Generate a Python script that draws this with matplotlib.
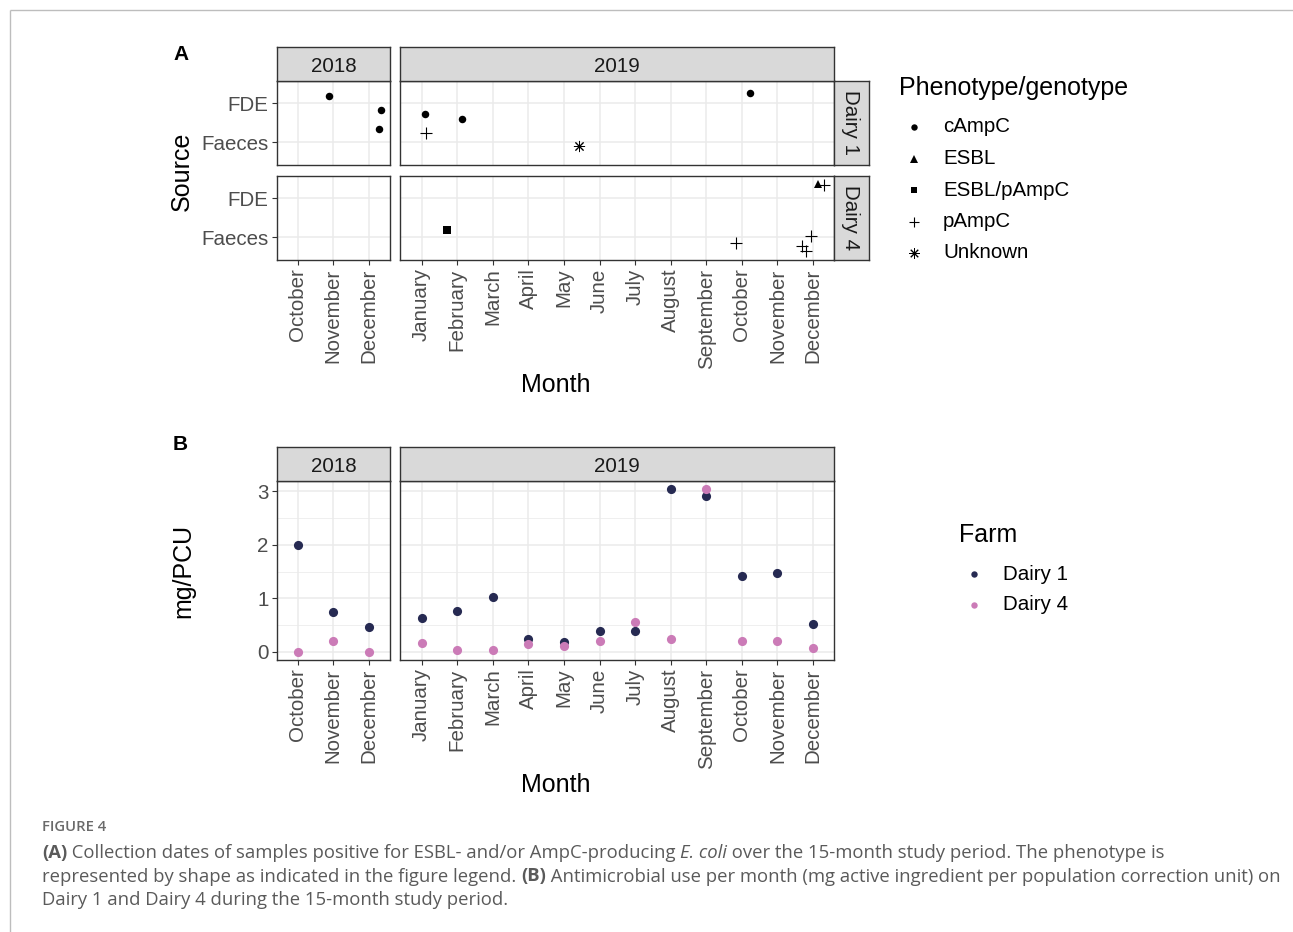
import matplotlib
matplotlib.use("Agg")
import matplotlib.pyplot as plt

W, H, DPI = 1293, 932, 100
FONT = "Liberation Sans"
plt.rcParams["font.family"] = [FONT, "DejaVu Sans"]

# ---------------- data ----------------
months_2018 = ["October", "November", "December"]
months_2019 = ["January", "February", "March", "April", "May", "June",
               "July", "August", "September", "October", "November", "December"]
sources = ["Faeces", "FDE"]
phenotypes = ["cAmpC", "ESBL", "ESBL/pAmpC", "pAmpC", "Unknown"]

# Panel A: positive samples (month + observed jitter offsets as drawn)
a_farm = ["Dairy 1"] * 8 + ["Dairy 4"] * 7
a_year = [2018, 2018, 2018, 2019, 2019, 2019, 2019, 2019,
          2019, 2019, 2019, 2019, 2019, 2019, 2019]
a_month = ["November", "December", "December", "January", "January", "February", "May", "October",
           "February", "October", "December", "December", "December", "December", "December"]
a_source = ["FDE", "FDE", "Faeces", "FDE", "Faeces", "FDE", "Faeces", "FDE",
            "Faeces", "Faeces", "Faeces", "Faeces", "Faeces", "FDE", "FDE"]
a_type = ["cAmpC", "cAmpC", "cAmpC", "cAmpC", "pAmpC", "cAmpC", "Unknown", "cAmpC",
          "ESBL/pAmpC", "pAmpC", "pAmpC", "pAmpC", "pAmpC", "ESBL", "pAmpC"]
a_dx = [-0.11, 0.34, 0.28, 0.09, 0.11, 0.13, 0.41, 0.22,
        -0.30, -0.17, -0.31, -0.21, -0.06, 0.15, 0.31]
a_dy = [0.18, -0.17, 0.33, -0.28, 0.24, -0.39, -0.09, 0.28,
        0.18, -0.14, -0.23, -0.36, 0.02, 0.37, 0.36]

# Panel B: antimicrobial use (mg/PCU)
farms = ["Dairy 1", "Dairy 4"]
amu_d1_2018 = [2.00, 0.74, 0.47]
amu_d1_2019 = [0.63, 0.77, 1.02, 0.24, 0.18, 0.39, 0.40, 3.04, 2.91, 1.41, 1.48, 0.52]
amu_d4_2018 = [0.00, 0.21, 0.00]
amu_d4_2019 = [0.16, 0.04, 0.03, 0.155, 0.11, 0.21, 0.56, 0.24, 3.04, 0.20, 0.21, 0.07]

farm_colors = {"Dairy 1": "#262A52", "Dairy 4": "#CB7BB7"}
ph_style = {
    "cAmpC": dict(marker="o", ms=5.4, mew=0),
    "ESBL": dict(marker="^", ms=6.2, mew=0),
    "ESBL/pAmpC": dict(marker="s", ms=5.2, mew=0),
    "pAmpC": dict(marker="+", ms=8.0, mew=0.8),
    "Unknown": dict(marker=(8, 2, 0), ms=8.0, mew=0.7),
}

# ---------------- helpers ----------------
fig = plt.figure(figsize=(W / DPI, H / DPI), dpi=DPI)
fig.patch.set_facecolor("white")

ov = fig.add_axes([0, 0, 1, 1])
ov.set_xlim(0, W)
ov.set_ylim(H, 0)
ov.axis("off")


def rect(x0, y0, x1, y1):
    return [x0 / W, 1 - y1 / H, (x1 - x0) / W, (y1 - y0) / H]


GRID = "#EBEBEB"
BORDER = "#333333"
TICKC = "#4D4D4D"
TICK_FS = 14.8
TITLE_FS = 18


def strip(box, label, rot=0):
    s = fig.add_axes(rect(*box))
    s.set_facecolor("#D9D9D9")
    s.set_xticks([])
    s.set_yticks([])
    for sp in s.spines.values():
        sp.set_color(BORDER)
        sp.set_linewidth(1.0)
    if rot == 0:
        s.text(0.5, 0.44, label, transform=s.transAxes, ha="center", va="center",
               fontsize=TICK_FS, color="#1A1A1A")
    else:
        s.text(0.47, 0.5, label, transform=s.transAxes, ha="center", va="center",
               fontsize=TICK_FS, color="#1A1A1A", rotation=rot)
    return s


def panel(box, xlim, ylim, xlabels, ylabels, yticks, show_x, show_y, yminor=None):
    ax = fig.add_axes(rect(*box))
    ax.set_xlim(*xlim)
    ax.set_ylim(*ylim)
    ax.set_xticks(range(len(xlabels)))
    ax.set_yticks(yticks)
    if yminor is not None:
        ax.set_yticks(yminor, minor=True)
    ax.grid(True, which="major", color=GRID, lw=1.1)
    if yminor is not None:
        ax.grid(True, which="minor", axis="y", color=GRID, lw=0.55)
    ax.set_axisbelow(True)
    for sp in ax.spines.values():
        sp.set_color(BORDER)
        sp.set_linewidth(1.0)
    ax.tick_params(which="minor", length=0)
    if show_x:
        ax.set_xticklabels(xlabels, rotation=90, ha="center", va="top")
        ax.tick_params(axis="x", length=3.6, width=0.8, color=BORDER, pad=2.5,
                       labelsize=TICK_FS, labelcolor=TICKC)
    else:
        ax.tick_params(axis="x", length=0, labelbottom=False)
    if show_y:
        ax.set_yticklabels(ylabels)
        ax.tick_params(axis="y", length=3.6, width=0.8, color=BORDER, pad=2.5,
                       labelsize=TICK_FS, labelcolor=TICKC)
    else:
        ax.tick_params(axis="y", length=0, labelleft=False)
    return ax


X18 = (277, 390)
X19 = (400, 834)
XL18 = (-0.58, 2.59)
XL19 = (-0.61, 11.59)

# ---------------- Panel A ----------------
rows_a = {"Dairy 1": (81, 165), "Dairy 4": (176, 260)}
ylim_a = (0.41, 2.58)
for farm, (y0, y1) in rows_a.items():
    bottom = farm == "Dairy 4"
    for yr, (xa, xb), xl, mlist in [(2018, X18, XL18, months_2018), (2019, X19, XL19, months_2019)]:
        ax = panel((xa, y0, xb, y1), xl, ylim_a, mlist, sources, [1, 2],
                   show_x=bottom, show_y=(yr == 2018))
        for f, y, m, s, t, dx, dy in zip(a_farm, a_year, a_month, a_source, a_type, a_dx, a_dy):
            if f == farm and y == yr:
                st = ph_style[t]
                ax.plot([mlist.index(m) + dx], [sources.index(s) + 1 + dy], ls="none",
                        color="black", marker=st["marker"], ms=st["ms"], mew=st["mew"])
    strip((834, y0, 869, y1), farm, rot=-90)
strip((277, 47, 390, 81), "2018")
strip((400, 47, 834, 81), "2019")

# ---------------- Panel B ----------------
ylim_b = (-0.15, 3.19)
amu = {("Dairy 1", 2018): amu_d1_2018, ("Dairy 1", 2019): amu_d1_2019,
       ("Dairy 4", 2018): amu_d4_2018, ("Dairy 4", 2019): amu_d4_2019}
for yr, (xa, xb), xl, mlist in [(2018, X18, XL18, months_2018), (2019, X19, XL19, months_2019)]:
    ax = panel((xa, 481, xb, 660), xl, ylim_b, mlist, ["0", "1", "2", "3"], [0, 1, 2, 3],
               show_x=True, show_y=(yr == 2018), yminor=[0.5, 1.5, 2.5])
    for farm in farms:
        vals = amu[(farm, yr)]
        ax.plot(range(len(vals)), vals, ls="none", marker="o", ms=6.6, mew=0,
                color=farm_colors[farm])
strip((277, 447, 390, 481), "2018")
strip((400, 447, 834, 481), "2019")

# ---------------- titles / labels ----------------
ov.text(181, 55, "A", ha="center", va="center", fontsize=15, fontweight="bold", color="black")
ov.text(180, 444, "B", ha="center", va="center", fontsize=15, fontweight="bold", color="black")
ov.text(182, 171, "Source", rotation=90, ha="center", va="center", fontsize=TITLE_FS, color="black")
ov.text(183, 571, "mg/PCU", rotation=90, ha="center", va="center", fontsize=TITLE_FS, color="black")
ov.text(555.5, 385, "Month", ha="center", va="center", fontsize=TITLE_FS, color="black")
ov.text(555.5, 785, "Month", ha="center", va="center", fontsize=TITLE_FS, color="black")

# ---------------- legends ----------------
ov.text(899, 88, "Phenotype/genotype", ha="left", va="center", fontsize=TITLE_FS, color="black")
leg_y = [127, 158.5, 190, 221.5, 253]
leg_ms = {"cAmpC": 4.6, "ESBL": 5.2, "ESBL/pAmpC": 4.6, "pAmpC": 7.5, "Unknown": 7.5}
for ph, yy in zip(phenotypes, leg_y):
    st = ph_style[ph]
    ov.plot([913.5], [yy], ls="none", color="black", marker=st["marker"], ms=leg_ms[ph], mew=st["mew"])
    ov.text(943, yy, ph, ha="left", va="center", fontsize=TICK_FS, color="black")

ov.text(959, 535, "Farm", ha="left", va="center", fontsize=TITLE_FS, color="black")
for farm, yy in zip(farms, [574, 605]):
    ov.plot([974], [yy], ls="none", marker="o", ms=4.6, mew=0, color=farm_colors[farm])
    ov.text(1003, yy, farm, ha="left", va="center", fontsize=TICK_FS, color="black")

# ---------------- page frame & caption ----------------
ov.plot([10, W], [10, 10], color="#BDBDBD", lw=1.0, solid_capstyle="butt")
ov.plot([10, 10], [10, H], color="#BDBDBD", lw=1.0, solid_capstyle="butt")

CAP = "Open Sans"
CAPC = "#5A5A5A"
CAP_FS = 13.3
ov.text(42, 827, "FIGURE 4", ha="left", va="center", fontsize=10.7, color="#6A6A6A",
        family=[CAP, "DejaVu Sans"], fontweight="semibold")

renderer = fig.canvas.get_renderer()


def rich_line(x, y, segments):
    for txt, style in segments:
        kw = dict(ha="left", va="center", fontsize=CAP_FS, color=CAPC, family=[CAP, "DejaVu Sans"])
        if style == "b":
            kw["fontweight"] = "bold"
        if style == "i":
            kw["fontstyle"] = "italic"
        t = ov.text(x, y, txt, **kw)
        bb = t.get_window_extent(renderer=renderer)
        x += bb.width


rich_line(42, 853, [("(A)", "b"),
                    (" Collection dates of samples positive for ESBL- and/or AmpC-producing ", "n"),
                    ("E. coli", "i"),
                    (" over the 15-month study period. The phenotype is", "n")])
rich_line(42, 876.5, [("represented by shape as indicated in the figure legend. ", "n"),
                      ("(B)", "b"),
                      (" Antimicrobial use per month (mg active ingredient per population correction unit) on", "n")])
rich_line(42, 900, [("Dairy 1 and Dairy 4 during the 15-month study period.", "n")])

fig.savefig("out.png", dpi=DPI, facecolor="white")
